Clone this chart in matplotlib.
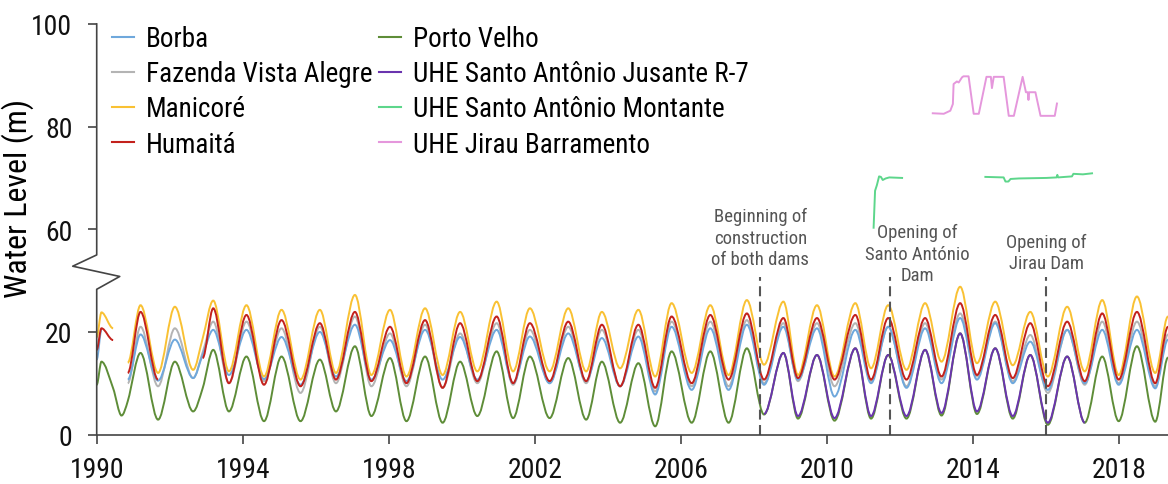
import numpy as np
import matplotlib
matplotlib.use("Agg")
import matplotlib.pyplot as plt
import matplotlib.transforms as mtransforms
from matplotlib.path import Path
from matplotlib.patches import PathPatch
from matplotlib.lines import Line2D

plt.rcParams['font.family'] = ['Roboto Condensed', 'Liberation Sans', 'DejaVu Sans']

# stage knots (flood peaks / low-water troughs), decimal years
years = [1990.00, 1990.13, 1990.45, 1990.68, 1990.85, 1991.20, 1991.68, 1992.14, 1992.64, 1992.90,
         1993.19, 1993.62, 1994.10, 1994.58, 1995.06, 1995.58, 1996.11, 1996.55, 1997.07, 1997.52,
         1998.03, 1998.48, 1998.99, 1999.47, 1999.95, 2000.42, 2000.95, 2001.40, 2001.86, 2002.40,
         2002.91, 2003.40, 2003.83, 2004.33, 2004.83, 2005.29, 2005.74, 2006.29, 2006.80, 2007.30,
         2007.80, 2008.27, 2008.80, 2009.20, 2009.72, 2010.20, 2010.77, 2011.20, 2011.67, 2012.17,
         2012.68, 2013.13, 2013.64, 2014.10, 2014.60, 2015.08, 2015.56, 2016.04, 2016.57, 2017.05,
         2017.53, 2017.98, 2018.48, 2018.98, 2019.33]

borba = [14.6, 20.4, None, None, 10.7, 19.5, 10.5, 18.5, 11.0, 15.5,
         20.4, 11.6, 20.4, 10.8, 19.0, 9.7, 20.0, 11.3, 21.4, 10.7,
         18.4, 10.4, 20.4, 10.7, 19.0, 10.7, 20.4, 10.0, 19.1, 10.0,
         19.7, 10.4, 18.8, 9.4, 19.1, 7.8, 21.0, 8.7, 20.7, 8.7,
         21.4, 9.7, 21.0, 10.7, 20.7, 7.4, 20.4, 10.0, 21.0, 9.1,
         20.7, 10.0, 22.7, 10.7, 21.7, 10.0, 18.1, 8.7, 20.4, 10.0,
         20.4, 9.7, 20.4, 9.0, 18.5]

fazenda = [None, None, None, None, 10.0, 21.0, 9.4, 20.7, 11.0, 16.0,
           22.0, 10.0, 22.0, 10.4, 20.7, 8.1, 21.0, 10.0, 23.0, 9.4,
           19.7, 9.4, 21.4, 9.1, 19.7, 10.0, 21.7, 9.7, 20.4, 10.0,
           21.0, 10.0, 20.4, 9.4, 20.4, 8.4, 22.0, 9.4, 22.0, 9.4,
           22.3, 10.0, 21.7, 10.4, 21.7, 9.4, 21.7, 10.4, 21.0, 9.4,
           21.7, 10.7, 23.6, 11.3, 22.0, 10.4, 19.4, 8.1, 20.4, 9.7,
           22.0, 10.0, 22.0, 9.4, 19.5]

manicore = [19.0, 23.8, 20.7, None, 14.0, 25.2, 12.0, 24.9, 12.6, 18.7,
            26.1, 12.3, 25.2, 11.3, 24.3, 10.7, 24.3, 12.0, 27.2, 11.6,
            24.3, 11.3, 24.6, 11.6, 23.9, 12.3, 25.9, 12.3, 24.6, 12.3,
            24.6, 12.3, 23.9, 12.9, 24.3, 11.3, 25.6, 12.0, 25.2, 11.6,
            26.2, 13.6, 25.9, 11.6, 25.2, 11.3, 25.6, 12.9, 25.2, 12.6,
            25.6, 14.2, 28.8, 13.9, 25.9, 13.5, 23.9, 11.3, 24.9, 12.3,
            26.2, 11.6, 26.9, 12.0, 23.0]

humaita = [16.5, 20.7, 18.4, None, 12.0, 23.9, 10.7, None, None, 14.9,
           24.6, 10.0, 23.3, 9.7, 22.3, 9.4, 21.7, 10.7, 23.9, 10.4,
           21.0, 10.0, 22.3, 9.1, 21.7, 10.4, 23.0, 10.0, 21.7, 10.4,
           22.0, 10.4, 21.4, 9.4, 21.4, 9.1, 23.0, 10.0, 23.3, 10.7,
           23.6, 10.7, 22.7, 11.0, 22.7, 10.7, 23.3, 10.7, 22.7, 10.7,
           22.7, 11.3, 25.6, 11.6, 23.3, 11.0, 21.7, 9.4, 22.0, 10.4,
           23.6, 10.7, 23.9, 10.0, 21.0]

porto_velho = [9.7, 14.2, 9.0, 3.7, 6.5, 15.9, 2.9, 14.2, 4.5, 9.0,
               16.5, 4.5, 15.2, 2.6, 15.2, 2.6, 14.6, 4.5, 17.2, 3.6,
               14.9, 2.6, 15.2, 2.3, 14.2, 3.6, 16.2, 3.2, 15.2, 3.2,
               14.9, 2.9, 14.2, 2.3, 13.9, 1.6, 16.2, 2.3, 16.2, 2.3,
               16.8, 3.9, 15.9, 3.1, 15.5, 2.7, 16.8, 3.1, 15.5, 3.1,
               16.5, 3.7, 19.7, 4.0, 16.8, 3.1, 15.5, 1.9, 15.2, 2.3,
               15.2, 2.6, 17.2, 2.5, 15.0]

jusante = [None] * 41 + [4.0, 15.9, 3.6, 15.5, 3.2, 16.8, 3.6, 15.5, 3.6, 16.5,
                         4.2, 19.7, 4.5, 16.8, 3.6, 15.5, 2.3, 15.2, 2.3] + [None] * 5

# reservoir gauges (upper panel of the broken axis)
montante_year = [2011.27, 2011.31, 2011.36, 2011.42, 2011.47, 2011.52, 2011.60, 2011.70, 2012.05, 2013.00,
                 2014.33, 2014.83, 2014.88, 2014.96, 2015.02, 2015.25, 2016.00, 2016.28, 2016.30, 2016.32,
                 2016.70, 2016.74, 2017.00, 2017.25]
montante = [60.3, 67.5, 68.6, 70.3, 70.2, 69.6, 69.9, 70.1, 70.0, None,
            70.2, 70.1, 69.3, 69.3, 69.8, 69.9, 70.0, 70.1, 70.6, 70.1,
            70.3, 70.8, 70.7, 70.9]

jirau_year = [2012.89, 2013.19, 2013.37, 2013.44, 2013.46, 2013.55, 2013.60, 2013.69, 2013.73, 2013.87,
              2014.01, 2014.15, 2014.36, 2014.48, 2014.51, 2014.56, 2014.83, 2014.97, 2015.11, 2015.35,
              2015.44, 2015.49, 2015.51, 2015.53, 2015.70, 2015.84, 2016.23, 2016.29]
jirau = [82.6, 82.5, 83.1, 84.4, 88.3, 88.8, 88.6, 89.6, 89.8, 89.8,
         82.5, 82.5, 89.7, 89.7, 87.5, 89.7, 89.7, 82.1, 82.1, 89.7,
         86.7, 86.7, 85.2, 86.7, 86.7, 82.1, 82.1, 84.5]

events = [2008.17, 2011.73, 2016.00]

for s in (borba, fazenda, manicore, humaita, porto_velho, jusante):
    assert len(s) == len(years)


def fwd(v):
    v = np.asarray(v, float)
    return np.where(v <= 30, v, np.where(v >= 60, v - 20, 30 + (v - 30) / 3))


def inv(d):
    d = np.asarray(d, float)
    return np.where(d <= 30, d, np.where(d >= 40, d + 20, 30 + (d - 30) * 3))


def stage_path(x, y):
    # cubic segments between knots, flat tangent at peaks, troughs and ends
    x = np.asarray(x, float)
    y = np.array(y, dtype=float)
    idx = np.flatnonzero(~np.isnan(y))
    runs = np.split(idx, np.flatnonzero(np.diff(idx) > 1) + 1)
    verts, codes = [], []
    for run in runs:
        if len(run) < 2:
            continue
        xs, ys = x[run], y[run]
        m = np.zeros(len(xs))
        for i in range(1, len(xs) - 1):
            if (ys[i] - ys[i - 1]) * (ys[i + 1] - ys[i]) > 0:
                m[i] = (ys[i + 1] - ys[i - 1]) / (xs[i + 1] - xs[i - 1])
        verts.append((xs[0], ys[0]))
        codes.append(Path.MOVETO)
        for i in range(len(xs) - 1):
            h = (xs[i + 1] - xs[i]) / 3
            verts += [(xs[i] + h, ys[i] + m[i] * h),
                      (xs[i + 1] - h, ys[i + 1] - m[i + 1] * h),
                      (xs[i + 1], ys[i + 1])]
            codes += [Path.CURVE4] * 3
    return Path(verts, codes)


colors = {
    'Borba': '#6fa8dc',
    'Fazenda Vista Alegre': '#b4b4b4',
    'Manicoré': '#f9c133',
    'Humaitá': '#c3211c',
    'Porto Velho': '#5e8d38',
    'UHE Santo Antônio Jusante R-7': '#6a34ae',
    'UHE Santo Antônio Montante': '#5dd68b',
    'UHE Jirau Barramento': '#e597dc',
}

fig = plt.figure(figsize=(11.68, 4.85), dpi=100)
ax = fig.add_axes([0.0828, 0.102, 0.9172, 0.8465])
ax.set_yscale('function', functions=(fwd, inv))
ax.set_xlim(1990, 2019.33)
ax.set_ylim(0, 100)

for name, vals in [('Fazenda Vista Alegre', fazenda), ('Borba', borba), ('Manicoré', manicore),
                   ('Humaitá', humaita), ('Porto Velho', porto_velho),
                   ('UHE Santo Antônio Jusante R-7', jusante)]:
    ax.add_patch(PathPatch(stage_path(years, vals), fill=False, edgecolor=colors[name],
                           lw=1.4, transform=ax.transData))

ax.plot(montante_year, np.array(montante, dtype=float), color=colors['UHE Santo Antônio Montante'], lw=1.4)
ax.plot(jirau_year, jirau, color=colors['UHE Jirau Barramento'], lw=1.4)

# dam milestones
for x in events:
    ax.axvline(x, ymin=0, ymax=0.383, color='#555555', lw=1.5, ls=(0, (4.8, 2.6)))
tr = mtransforms.blended_transform_factory(ax.transData, ax.transAxes)
note = dict(transform=tr, ha='center', va='center', fontsize=13.5, color='#555555', linespacing=1.25)
ax.text(events[0], 0.480, 'Beginning of\nconstruction\nof both dams', **note)
ax.text(2012.47, 0.440, 'Opening of\nSanto António\nDam', **note)
ax.text(events[2], 0.443, 'Opening of\nJirau Dam', **note)

# axes styling with the broken y axis
for side in ('top', 'right', 'left'):
    ax.spines[side].set_visible(False)
ax.spines['bottom'].set_color('#444444')
ax.spines['bottom'].set_linewidth(1.2)
ytr = mtransforms.blended_transform_factory(ax.transAxes, ax.transData)
ax.plot([0, 0, 0.0215, -0.0224, 0, 0], [0, 28.3, 32.4, 38.4, 45, 100], transform=ytr,
        color='#444444', lw=1.2, clip_on=False)

ax.set_xticks(range(1990, 2019, 4))
ax.set_yticks([0, 20, 60, 80, 100])
ax.tick_params(axis='both', direction='out', length=6.5, width=1.2, color='#444444',
               labelcolor='#111111', labelsize=20)
ax.tick_params(axis='x', pad=9)
ax.tick_params(axis='y', pad=11)
ax.set_ylabel('Water Level (m)', fontsize=23, va='center')
ax.yaxis.set_label_coords(-0.0735, 0.578)

handles = [Line2D([], [], color=c, lw=1.5) for c in colors.values()]
ax.legend(handles, list(colors.keys()), ncols=2, loc='upper left', bbox_to_anchor=(0.0143, 0.997),
          frameon=False, fontsize=19.5, handlelength=0.8, handletextpad=0.45, columnspacing=0.25,
          labelspacing=0.3, borderpad=0, borderaxespad=0)

fig.savefig('out.png', dpi=100)
